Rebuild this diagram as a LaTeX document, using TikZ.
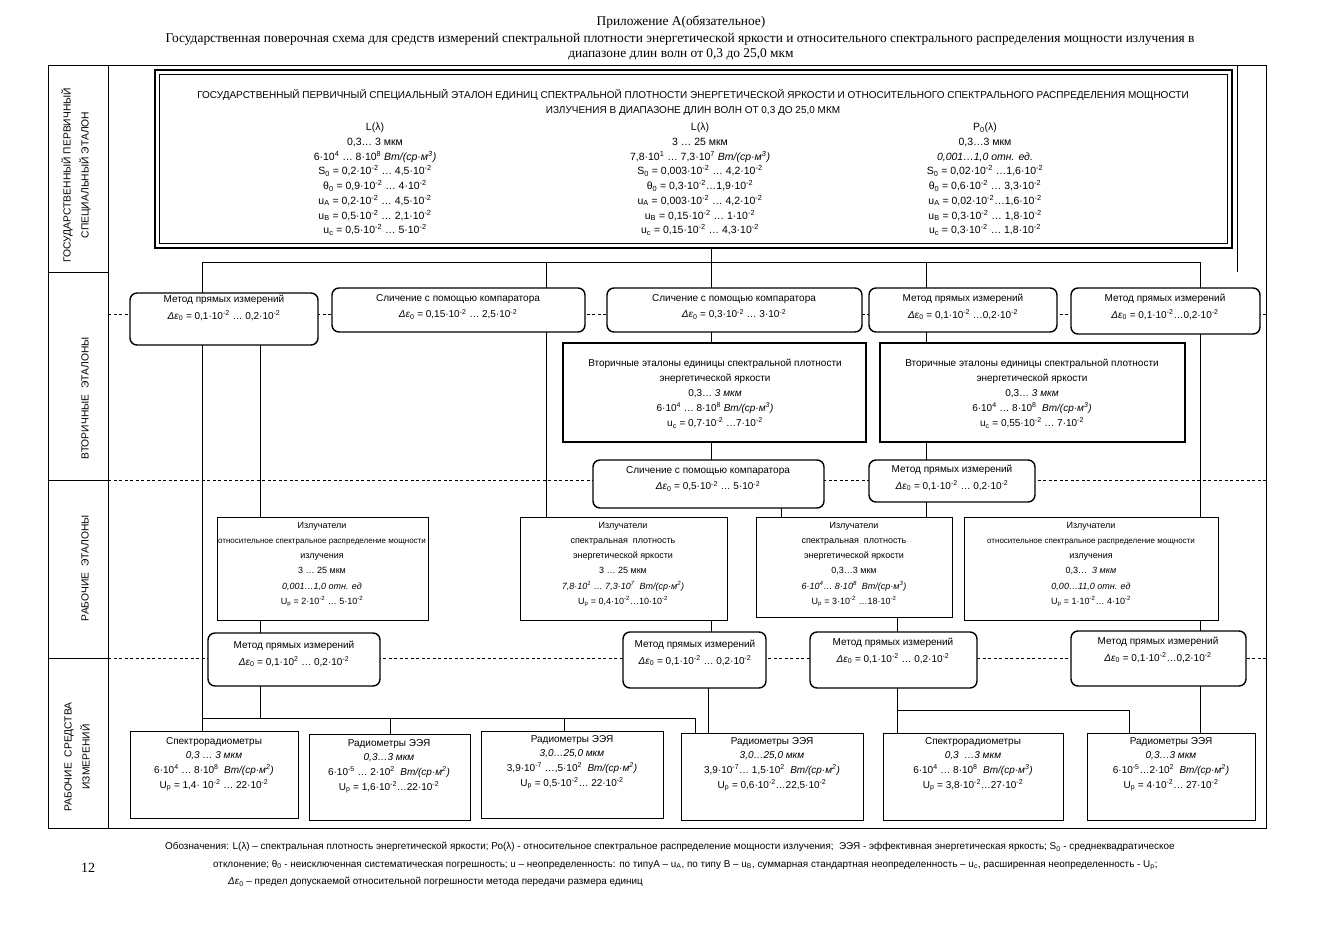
\documentclass[tikz,border=0pt]{standalone}
\usepackage{fontspec}
\setmainfont{Liberation Serif}
\newfontfamily\arial{Liberation Sans}
\usetikzlibrary{calc}
\newcommand\SP[1]{\textsuperscript{#1}}
\newcommand\SB[1]{\textsubscript{#1}}
\newcommand\de{\textit{Δε}\SB{0}}
\newcommand\sm[1]{{\fontsize{8}{15}\selectfont #1}}
\newcommand\bx[6]{\node[#1, minimum width={#4-#2}, minimum height={#5-#3}, inner sep=0pt, outer sep=0pt] (#6) at ({(#2+#4)/2},{(#3+#5)/2}) {};}
\begin{document}
\begin{tikzpicture}[x=1pt,y=-1pt,
  txt/.style={font=\arial\fontsize{10}{15}\selectfont, align=center, inner sep=0pt, anchor=north},
  txtm/.style={txt, font=\arial\fontsize{10}{16.5}\selectfont},
  txtw/.style={txt, font=\arial\fontsize{9}{15.2}\selectfont},
  txtb/.style={txt, font=\arial\fontsize{10}{14.7}\selectfont},
  txtp/.style={txt, font=\arial\fontsize{10.5}{14.7}\selectfont},
  lab/.style={font=\arial\fontsize{10.3}{18}\selectfont, align=center, inner sep=0pt, rotate=90},
  leg/.style={font=\arial\fontsize{9.9}{12}\selectfont, anchor=west, inner sep=0pt},
  ttl/.style={font=\fontsize{13.4}{15}\selectfont, inner sep=0pt},
  rbox/.style={draw, rounded corners=7pt, line width=1.4pt, fill=white},
  tbox/.style={draw, line width=2.2pt, fill=white},
  wbox/.style={draw, line width=0.7pt, fill=white},
  pbox/.style={draw, line width=2.6pt, fill=white},
  conn/.style={line width=0.7pt},
  dsh/.style={line width=0.6pt, dash pattern=on 3pt off 2.5pt},
  frm/.style={line width=0.7pt}]
\useasboundingbox (0,0) rectangle (1323,936);

% title
\node[ttl] (T1) at (681,22) {Приложение А(обязательное)};
\node[ttl] (T2) at (680,39) {Государственная поверочная схема для средств измерений спектральной плотности энергетической яркости и относительного спектрального распределения мощности излучения в};
\node[ttl] (T3) at (681,54) {диапазоне длин волн от 0,3 до 25,0 мкм};

% frame
\draw[frm] (48,65) rectangle (1266,828);
\draw[frm] (1237,65) -- (1237,272);
\draw[frm] (108,65) -- (108,828);
\draw[frm] (48,272) -- (108,272);
\draw[frm] (48,480) -- (108,480);
\draw[frm] (48,658) -- (108,658);
\node[lab] (L1) at (76,175) {ГОСУДАРСТВЕННЫЙ ПЕРВИЧНЫЙ\\СПЕЦИАЛЬНЫЙ ЭТАЛОН};
\node[lab] (L2) at (85,398) {ВТОРИЧНЫЕ \ ЭТАЛОНЫ};
\node[lab] (L3) at (85,568) {РАБОЧИЕ \ ЭТАЛОНЫ};
\node[lab] (L4) at (77,757) {РАБОЧИЕ \ СРЕДСТВА\\ИЗМЕРЕНИЙ};

% dashed level lines
\draw[dsh] (108,314) -- (1266,314);
\draw[dsh] (108,480) -- (1266,480);
\draw[dsh] (108,658) -- (1266,658);

% x references
\coordinate (X202) at (202,0);
\coordinate (X258) at (260,0);
\coordinate (X390) at (390,0);
\coordinate (X546) at (546,0);
\coordinate (X564) at (564,0);
\coordinate (X695) at (695,0);
\coordinate (X708) at (708,0);
\coordinate (X712) at (711,0);
\coordinate (X781) at (781,0);
\coordinate (X896) at (897,0);
\coordinate (X926) at (926,0);
\coordinate (X1129) at (1129,0);
\coordinate (X1200) at (1200,0);
\coordinate (H1) at (0,262);
\coordinate (H2) at (0,718);
\coordinate (H3) at (0,710);

% boxes
\bx{pbox}{155}{70}{1232}{248}{P}
\bx{rbox}{130}{293}{318}{345}{A}
\bx{rbox}{332}{288}{585}{332}{B}
\bx{rbox}{607}{288}{862}{332}{C}
\bx{rbox}{869}{288}{1057}{332}{D}
\bx{rbox}{1071}{288}{1260}{334}{E}
\bx{tbox}{563}{343}{866}{442}{S1}
\bx{tbox}{880}{343}{1185}{442}{S2}
\bx{rbox}{593}{460}{824}{508}{C3}
\bx{rbox}{869}{460}{1035}{502}{M5}
\bx{wbox}{217}{517}{428}{620}{W1}
\bx{wbox}{520}{517}{727}{620}{W2}
\bx{wbox}{756}{517}{952}{617}{W3}
\bx{wbox}{964}{517}{1218}{620}{W4}
\bx{rbox}{208}{633}{380}{686}{M1}
\bx{rbox}{623}{632}{766}{688}{M2}
\bx{rbox}{810}{632}{977}{688}{M3}
\bx{rbox}{1071}{631}{1246}{686}{M4}
\bx{wbox}{130}{731}{298}{818}{B1}
\bx{wbox}{309}{734}{470}{820}{B2}
\bx{wbox}{481}{731}{663}{818}{B3}
\bx{wbox}{681}{733}{863}{820}{B4}
\bx{wbox}{883}{733}{1063}{820}{B5}
\bx{wbox}{1087}{733}{1255}{820}{B6}
\draw[line width=0.6pt] ($(P.north west)+(4.5,4.5)$) rectangle ($(P.south east)+(-4.5,-4.5)$);

% connectors
\begin{scope}[conn]
\draw (P.south -| X712) -- (X712 |- H1);
\draw (X202 |- H1) -- (X1200 |- H1);
\draw (X202 |- H1) -- (A.north -| X202);
\draw (X546 |- H1) -- (B.north -| X546);
\draw (X712 |- H1) -- (C.north -| X712);
\draw (X926 |- H1) -- (D.north -| X926);
\draw (X1200 |- H1) -- (E.north -| X1200);
\draw (A.south -| X202) -- (B1.north -| X202);
\draw (A.south -| X258) -- (W1.north -| X258);
\draw (B.south -| X546) -- (W2.north -| X546);
\draw (C.south -| X712) -- (S1.north -| X712);
\draw (D.south -| X926) -- (S2.north -| X926);
\draw (E.south -| X1200) -- (W4.north -| X1200);
\draw (S1.south -| X712) -- (C3.north -| X712);
\draw (S2.south -| X926) -- (M5.north -| X926);
\draw (M5.south -| X926) -- (W3.north -| X926);
\draw (C3.south -| X781) -- (W3.north -| X781);
\draw (W1.south -| X258) -- (M1.north -| X258);
\draw (W2.south -| X712) -- (M2.north -| X712);
\draw (W3.south -| X896) -- (M3.north -| X896);
\draw (W4.south -| X1200) -- (M4.north -| X1200);
\draw (M1.south -| X258) -- (X258 |- H2);
\draw (X202 |- H2) -- (X695 |- H2);
\draw (X390 |- H2) -- (B2.north -| X390);
\draw (X564 |- H2) -- (B3.north -| X564);
\draw (X695 |- H2) -- (B4.north -| X695);
\draw (M2.south -| X708) -- (B4.north -| X708);
\draw (M3.south -| X896) -- (B5.north -| X896);
\draw (X896 |- H3) -- (X1129 |- H3) -- (B6.north -| X1129);
\draw (M4.south -| X1200) -- (B6.north -| X1200);
\end{scope}

% primary standard text
\node[txt] (Pt) at (693,89) {ГОСУДАРСТВЕННЫЙ ПЕРВИЧНЫЙ СПЕЦИАЛЬНЫЙ ЭТАЛОН ЕДИНИЦ СПЕКТРАЛЬНОЙ ПЛОТНОСТИ ЭНЕРГЕТИЧЕСКОЙ ЯРКОСТИ И ОТНОСИТЕЛЬНОГО СПЕКТРАЛЬНОГО РАСПРЕДЕЛЕНИЯ МОЩНОСТИ\\ИЗЛУЧЕНИЯ В ДИАПАЗОНЕ ДЛИН ВОЛН ОТ 0,3 ДО 25,0 МКМ};
\node[txtp] (Pa) at (375,123) {L(λ)\\0,3… 3 мкм\\6·10\SP{4} … 8·10\SP{8} \textit{Вт/(ср·м\SP{3})}\\S\SB{0} = 0,2·10\SP{-2} … 4,5·10\SP{-2}\\θ\SB{0} = 0,9·10\SP{-2} … 4·10\SP{-2}\\u\SB{A} = 0,2·10\SP{-2} … 4,5·10\SP{-2}\\u\SB{B} = 0,5·10\SP{-2} … 2,1·10\SP{-2}\\u\SB{c} = 0,5·10\SP{-2} … 5·10\SP{-2}};
\node[txtp] (Pb) at (700,123) {L(λ)\\3 … 25 мкм\\7,8·10\SP{1} … 7,3·10\SP{7} \textit{Вт/(ср·м\SP{3})}\\S\SB{0} = 0,003·10\SP{-2} … 4,2·10\SP{-2}\\θ\SB{0} = 0,3·10\SP{-2}…1,9·10\SP{-2}\\u\SB{A} = 0,003·10\SP{-2} … 4,2·10\SP{-2}\\u\SB{B} = 0,15·10\SP{-2} … 1·10\SP{-2}\\u\SB{c} = 0,15·10\SP{-2} … 4,3·10\SP{-2}};
\node[txtp] (Pc) at (985,123) {P\SB{0}(λ)\\0,3…3 мкм\\\textit{0,001…1,0 отн. ед.}\\S\SB{0} = 0,02·10\SP{-2} …1,6·10\SP{-2}\\θ\SB{0} = 0,6·10\SP{-2} … 3,3·10\SP{-2}\\u\SB{A} = 0,02·10\SP{-2}…1,6·10\SP{-2}\\u\SB{B} = 0,3·10\SP{-2} … 1,8·10\SP{-2}\\u\SB{c} = 0,3·10\SP{-2} … 1,8·10\SP{-2}};

% row 1
\node[txtm] (At) at (224,295) {Метод прямых измерений\\\de{} = 0,1·10\SP{-2} … 0,2·10\SP{-2}};
\node[txtm] (Bt) at (458,294) {Сличение с помощью компаратора\\\de{} = 0,15·10\SP{-2} … 2,5·10\SP{-2}};
\node[txtm] (Ct) at (734,294) {Сличение с помощью компаратора\\\de{} = 0,3·10\SP{-2} … 3·10\SP{-2}};
\node[txtm] (Dt) at (963,294) {Метод прямых измерений\\\de{} = 0,1·10\SP{-2} …0,2·10\SP{-2}};
\node[txtm] (Et) at (1165,294) {Метод прямых измерений\\\de{} = 0,1·10\SP{-2}…0,2·10\SP{-2}};

% secondary
\node[txt] (S1t) at (715,359) {Вторичные эталоны единицы спектральной плотности\\энергетической яркости\\0,3… \textit{3 мкм}\\6·10\SP{4} … 8·10\SP{8} \textit{Вт/(ср·м\SP{3})}\\u\SB{c} = 0,7·10\SP{-2} …7·10\SP{-2}};
\node[txt] (S2t) at (1032,359) {Вторичные эталоны единицы спектральной плотности\\энергетической яркости\\0,3… \textit{3 мкм}\\6·10\SP{4} … 8·10\SP{8} \ \textit{Вт/(ср·м\SP{3})}\\u\SB{c} = 0,55·10\SP{-2} … 7·10\SP{-2}};
\node[txtm] (C3t) at (708,466) {Сличение с помощью компаратора\\\de{} = 0,5·10\SP{-2} … 5·10\SP{-2}};
\node[txtm] (M5t) at (952,465) {Метод прямых измерений\\\de{} = 0,1·10\SP{-2} … 0,2·10\SP{-2}};

% working standards
\node[txtw] (W1t) at (322,522) {Излучатели\\\sm{относительное спектральное распределение мощности}\\излучения\\3 … 25 мкм\\\textit{0,001…1,0 отн. ед}\\U\SB{p} = 2·10\SP{-2} … 5·10\SP{-2}};
\node[txtw] (W2t) at (623,522) {Излучатели\\спектральная \ плотность\\энергетической яркости\\3 … 25 мкм\\\textit{7,8·10\SP{1} … 7,3·10\SP{7} \ Вт/(ср·м\SP{2})}\\U\SB{p} = 0,4·10\SP{-2}…10·10\SP{-2}};
\node[txtw] (W3t) at (854,522) {Излучатели\\спектральная \ плотность\\энергетической яркости\\0,3…3 мкм\\\textit{6·10\SP{4}… 8·10\SP{8} \ Вт/(ср·м\SP{3})}\\U\SB{p} = 3·10\SP{-2} …18·10\SP{-2}};
\node[txtw] (W4t) at (1091,522) {Излучатели\\\sm{относительное спектральное распределение мощности}\\излучения\\0,3… \ \textit{3 мкм}\\\textit{0,00…11,0 отн. ед}\\U\SB{p} = 1·10\SP{-2}… 4·10\SP{-2}};

% row 3
\node[txtm] (M1t) at (294,641) {Метод прямых измерений\\\de{} = 0,1·10\SP{2} … 0,2·10\SP{-2}};
\node[txtm] (M2t) at (695,640) {Метод прямых измерений\\\de{} = 0,1·10\SP{-2} … 0,2·10\SP{-2}};
\node[txtm] (M3t) at (893,638) {Метод прямых измерений\\\de{} = 0,1·10\SP{-2} … 0,2·10\SP{-2}};
\node[txtm] (M4t) at (1158,637) {Метод прямых измерений\\\de{} = 0,1·10\SP{-2}…0,2·10\SP{-2}};

% working instruments
\node[txtb] (B1t) at (214,737) {Спектрорадиометры\\\textit{0,3 … 3 мкм}\\6·10\SP{4} … 8·10\SP{8} \ \textit{Вт/(ср·м\SP{2})}\\U\SB{p} = 1,4· 10\SP{-2} … 22·10\SP{-2}};
\node[txtb] (B2t) at (389,739) {Радиометры ЭЭЯ\\\textit{0,3…3 мкм}\\6·10\SP{-5} … 2·10\SP{2} \ \textit{Вт/(ср·м\SP{2})}\\U\SB{p} = 1,6·10\SP{-2}…22·10\SP{-2}};
\node[txtb] (B3t) at (572,735) {Радиометры ЭЭЯ\\\textit{3,0…25,0 мкм}\\3,9·10\SP{-7} …,5·10\SP{2} \ \textit{Вт/(ср·м\SP{2})}\\U\SB{p} = 0,5·10\SP{-2}… 22·10\SP{-2}};
\node[txtb] (B4t) at (772,737) {Радиометры ЭЭЯ\\\textit{3,0…25,0 мкм}\\3,9·10\SP{-7}… 1,5·10\SP{2} \ \textit{Вт/(ср·м\SP{2})}\\U\SB{p} = 0,6·10\SP{-2}…22,5·10\SP{-2}};
\node[txtb] (B5t) at (973,737) {Спектрорадиометры\\\textit{0,3 \ …3 мкм}\\6·10\SP{4} … 8·10\SP{8} \ \textit{Вт/(ср·м\SP{3})}\\U\SB{p} = 3,8·10\SP{-2}…27·10\SP{-2}};
\node[txtb] (B6t) at (1171,737) {Радиометры ЭЭЯ\\\textit{0,3…3 мкм}\\6·10\SP{-5}…2·10\SP{2} \ \textit{Вт/(ср·м\SP{2})}\\U\SB{p} = 4·10\SP{-2}… 27·10\SP{-2}};

% legend
\node[leg] (G1) at (165,847) {Обозначения: L(λ) – спектральная плотность энергетической яркости; Ро(λ) - относительное спектральное распределение мощности излучения; \ ЭЭЯ - эффективная энергетическая яркость; S\SB{0} - среднеквадратическое};
\node[leg] (G2) at (213,865) {отклонение; θ\SB{0} - неисключенная систематическая погрешность; u – неопределенность: по типуА – u\SB{A}, по типу В – u\SB{B}, суммарная стандартная неопределенность – u\SB{c}, расширенная неопределенность - U\SB{p};};
\node[leg] (G3) at (228,882) {\de{} – предел допускаемой относительной погрешности метода передачи размера единиц};
\node[font=\fontsize{14}{14}\selectfont, inner sep=0pt] (PN) at (88,868) {12};
\end{tikzpicture}
\end{document}
